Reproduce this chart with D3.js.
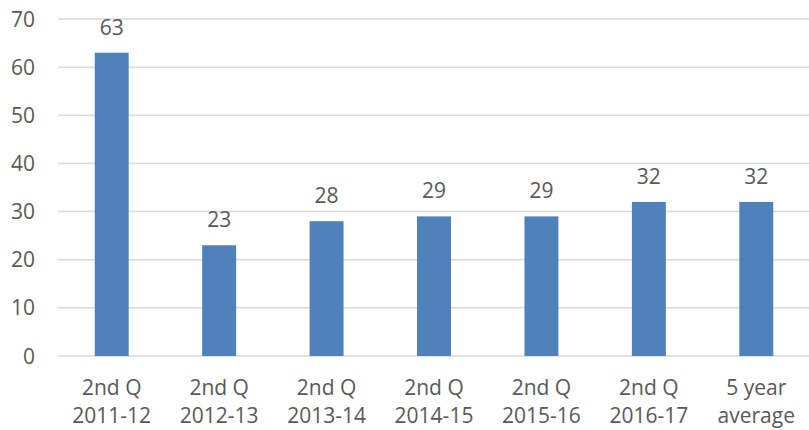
<!DOCTYPE html>
<html>
<head>
<meta charset="utf-8">
<script src="https://cdn.jsdelivr.net/npm/d3@7"></script>
<style>
  body{margin:0;background:#fff;}
  text{font-family:"Open Sans",sans-serif;fill:#595959;}
</style>
</head>
<body>
<svg id="chart"></svg>
<script>
const categories = [["2nd Q","2011-12"],["2nd Q","2012-13"],["2nd Q","2013-14"],["2nd Q","2014-15"],["2nd Q","2015-16"],["2nd Q","2016-17"],["5 year","average"]];
const values = [63, 23, 28, 29, 29, 32, 32];
const yTicks = [0, 10, 20, 30, 40, 50, 60, 70];

const W = 809, H = 430;
const svg = d3.select("#chart").attr("width", W).attr("height", H);

const x = d3.scaleBand()
  .domain(d3.range(categories.length))
  .range([58, 810])
  .paddingInner(0.684)
  .paddingOuter(0.342);

const y = d3.scaleLinear().domain([0, 70]).range([356, 19]);

// gridlines
svg.append("g").selectAll("line")
  .data(yTicks)
  .enter().append("line")
    .attr("x1", 58).attr("x2", 809)
    .attr("y1", d => y(d)).attr("y2", d => y(d))
    .attr("stroke", "#d9d9d9").attr("stroke-width", 1.5);

// y tick labels
svg.append("g").selectAll("text")
  .data(yTicks)
  .enter().append("text")
    .attr("x", 35).attr("y", d => y(d))
    .attr("dy", "0.36em")
    .attr("text-anchor", "end")
    .style("font-size", "21px")
    .text(d => d);

// bars
svg.append("g").selectAll("rect")
  .data(values)
  .enter().append("rect")
    .attr("x", (d, i) => x(i))
    .attr("width", x.bandwidth())
    .attr("y", d => y(d))
    .attr("height", d => y(0) - y(d))
    .attr("fill", "#4f81bd");

// value labels
svg.append("g").selectAll("text")
  .data(values)
  .enter().append("text")
    .attr("x", (d, i) => x(i) + x.bandwidth()/2)
    .attr("y", d => y(d) - 18)
    .attr("text-anchor", "middle")
    .style("font-size", "21px")
    .text(d => d);

// category labels
const cat = svg.append("g").selectAll("text")
  .data(categories)
  .enter().append("text")
    .attr("text-anchor", "middle")
    .style("font-size", "21px");
cat.each(function(d, i){
  const t = d3.select(this);
  const cx = x(i) + x.bandwidth()/2;
  d.forEach((line, j) => {
    t.append("tspan").attr("x", cx).attr("y", 395 + j*28).text(line);
  });
});
</script>
</body>
</html>
